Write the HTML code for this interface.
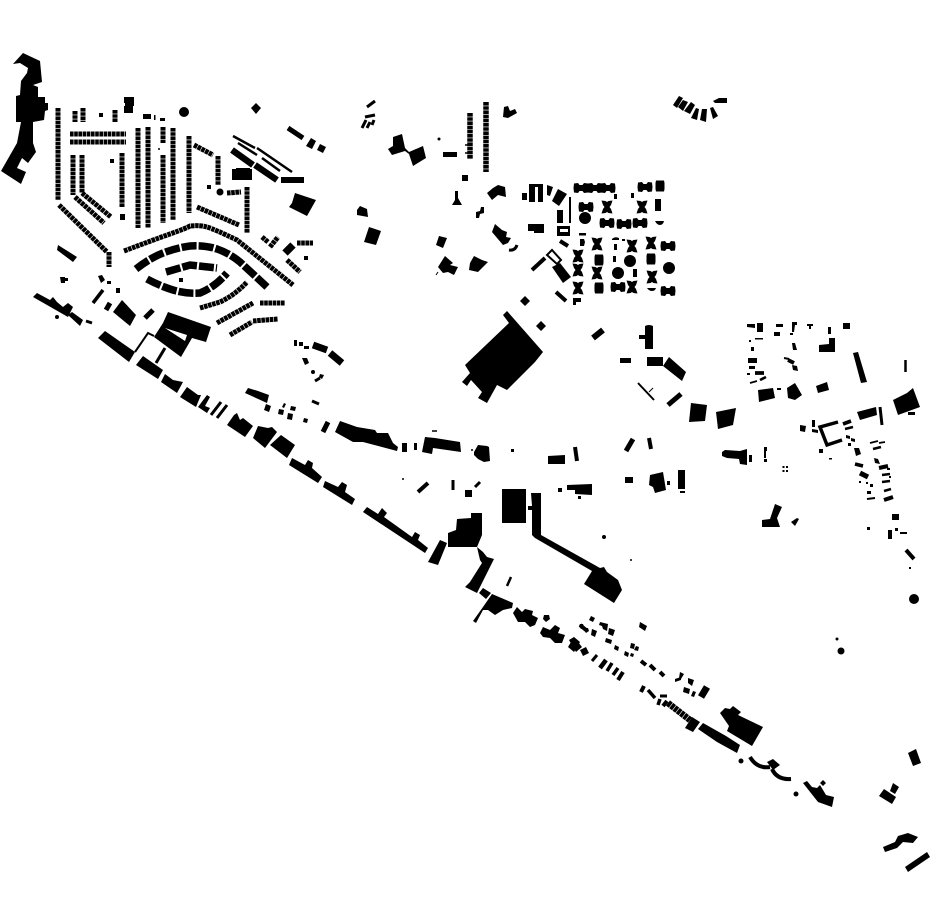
<!DOCTYPE html>
<html><head><meta charset="utf-8"><title>Figure-ground plan</title>
<style>html,body{margin:0;padding:0;background:#fff}svg{display:block}.l{fill:none;stroke:#000}.d{fill:none;stroke:#000;stroke-dasharray:3.6 .6}</style></head>
<body>
<svg width="930" height="924" viewBox="0 0 930 924" xmlns="http://www.w3.org/2000/svg">
<defs>
<path id="x" d="M-5.5,-6.5 L-1.5,-6 L0,-5 L1.5,-6 L5.5,-6.5 L4,-2 L2.5,0 L4,2 L5.5,6.5 L1.5,6 L0,5 L-1.5,6 L-5.5,6.5 L-4,2 L-2.5,0 L-4,-2Z"/>
<path id="h" d="M-7,-4.5 L-3,-5 L-1.5,-3 L1.5,-3 L3,-5 L7,-4.5 L7.5,0 L7,4.5 L3,5 L1.5,3 L-1.5,3 L-3,5 L-7,4.5 L-7.5,0Z"/>
<path id="v" d="M-5.5,-7.5 L5.5,-7.5 L5,-3.5 L3,-1 L3,1 L5,3.5 L5.5,7.5 L-5.5,7.5 L-5,3.5 L-3,1 L-3,-1 L-5,-3.5Z"/>
<path id="r" d="M-4,-5.5 H4 L4.5,-3 V3 L4,5.5 H-4 L-4.5,3 V-3Z"/>
</defs>
<!-- NW large building -->
<polygon points="13,64 23,53 40,61 42,82 33,85 38,87 38,97 45,97 45,103 48,103 48,110 45,111 44,120 33,122 33,143 36,152 28,163 22,158 17,168 26,172 21,184 1,171 17,143 21,122 16,122 16,96 20,95 21,81 27,73 28,68 20,63"/>
<!-- housing rows -->
<g class="d" stroke-width="5">
<path d="M58,108V200M75,111V122M83,108V122M115,110V122M70,134H126M70,142H126M73,155V195M82,155V193M122,153V207M138,128V228M148,127V228M163,127V143M163,155V223M173,128V220M189,136V213M194,145L213,155M218,156V185M227,193L241,192M247,187V233M197,207L239,225"/>
<path d="M75,197L104,223M82,193L111,217M59,205L107,252M109,252V267"/>
<path d="M124,251Q153,240 170,234T190,226Q200,225 207,227T237,240L293,285"/>
<path d="M200,308L220,302Q235,295 247,282M217,323L253,303M260,303H285M230,335L252,322M253,321L278,319M262,237L268,242M270,247L278,237M297,243H313M287,260L300,272"/>
</g>
<g class="l" stroke-width="7.5" stroke-dasharray="15 2">
<path d="M136,269Q150,258 163,253T190,246Q205,245 217,249T240,262L267,287"/>
<path d="M147,279Q160,286 173,290T200,293Q215,287 227,273"/>
<path d="M166,272L190,265L217,268"/>
<path d="M285,253L293,245"/>
</g>
<g class="l" stroke-width="2.5">
<path d="M233,136L255,148M257,148L292,172M238,143L257,155M262,158L280,171"/>
<path d="M135,352L148,333L154,336" stroke-width="2"/>
<path d="M165,348L156,363M211,415L221,402M217,418L227,405" stroke-width="3"/>
<path d="M232,150L253,165M255,165L277,180" stroke-width="6.5"/>
<path d="M288,128L303,138" stroke-width="5"/>
<path d="M93,303L103,290" stroke-width="3.5"/>
<path d="M106,310L110,303M323,432L328,422M145,318L153,310" stroke-width="5"/>
<path d="M86,321L92,323M312,401L319,404" stroke-width="3"/>
<path d="M313,345L327,350M330,353L342,363" stroke-width="7"/>
<path d="M315,381L320,378" stroke-width="3"/>
<path d="M432,431L437,431" stroke-width="1.5"/>
<path d="M626,451L633,439" stroke-width="5"/>
<path d="M418,492L428,483" stroke-width="4"/>
<path d="M453,480V490M475,487L480,482" stroke-width="3"/>
<path d="M575,447L577,461" stroke-width="4"/>
<path d="M511,577L507,586" stroke-width="2.5"/>
<path d="M367,107L375,101M365,117L375,115M362,128L366,120M367,128L370,122M372,125L374,120" stroke-width="3"/>
<path d="M570,197V223" stroke-width="2"/>
<path d="M560,241L568,246M532,270L545,258M556,292L566,301" stroke-width="4"/>
<path d="M547,255L552,250L561,260L557,264Z" stroke-width="2"/>
<path d="M509,250Q515,251 517,245" stroke-width="3"/>
<path d="M593,338L603,330" stroke-width="6"/>
<path d="M638,383L654,400" stroke-width="2"/>
<path d="M649,392L653,388" stroke-width="1"/>
<path d="M668,405L681,394" stroke-width="5"/>
<path d="M649,438L651,449" stroke-width="4"/>
<path d="M880,407L882,425" stroke-width="3"/>
<path d="M838,422L820,427L827,445L842,440" stroke-width="3.5"/>
<path d="M906,550L914,559" stroke-width="4"/>
<path d="M905.5,360V372" stroke-width="2.5"/>
<path d="M750,757Q757,769 770,767M772,769Q777,780 791,779" stroke-width="4"/>
<path d="M436,275L438,272" stroke-width="1"/>
<!-- south-east rows -->
<path d="M592,661L597,655" stroke-width="3"/>
<path d="M600,668L606,660" stroke-width="4.5"/>
<path d="M607,671L612,663M613,675L618,668M658,705L660,699M648,690L655,698" stroke-width="3.5"/>
<path d="M618,680L623,672M641,692L644,686M663,706L667,701" stroke-width="4"/>
<path d="M701,697L707,687" stroke-width="7"/>
<path d="M668,703L690,720" stroke-width="6.5" stroke-dasharray="3.5 .6"/>
<path d="M660,696H667" stroke-width="3"/>
<path d="M580,625L586,630M641,661L646,665M650,665L655,670M660,672L664,676" stroke-width="4"/>
<!-- north-east details -->
<path d="M784,358L789,359" stroke-width="2"/>
<path d="M788,360L794,363M843,424L851,421M755,373L764,373" stroke-width="3.8"/>
<path d="M760,380L766,377M873,449L881,447" stroke-width="2.6"/>
<path d="M845,429L853,427M882,475L890,474M882,482L890,481M884,491L891,489" stroke-width="2.5"/>
<path d="M750,383L757,381M870,443L878,441M879,443L885,442" stroke-width="1.8"/>
<path d="M879,468L888,466M884,500L893,497" stroke-width="4"/>
<path d="M855,464L863,466" stroke-width="3.5"/>
<path d="M860,473L868,477" stroke-width="5"/>
<path d="M867,499L875,498" stroke-width="2"/>
</g>
<g class="d" stroke-width="5.5" stroke-dasharray="5 .8">
<path d="M470,113V159M486,102V172"/>
</g>
<path d="M465,145H470M465,153H470" stroke="#000" stroke-width="1.5"/>
<!-- polygons -->
<polygon points="58,245 77,257 73,262 57,250"/>
<polygon points="33,297 37,293 50,300 53,297 57,302 63,307 68,303 73,307 68,317 33,297"/>
<polygon points="68,315 72,312 83,320 80,326"/>
<polygon points="113,312 122,300 136,315 130,326"/>
<path fill-rule="evenodd" d="M168,312L211,327L206,342L192,338L181,357L154,337L163,323ZM165,328L187,335L185,341Z"/>
<polygon points="98,338 105,331 135,352 129,362"/>
<polygon points="136,365 143,356 163,370 158,379"/>
<polygon points="161,382 165,374 173,380 183,382 177,393"/>
<polygon points="180,397 187,387 198,395 201,395 196,407"/>
<polygon points="198,407 207,395 210,397 205,406 210,408 207,413"/>
<polygon points="227,425 234,415 237,413 240,420 243,418 253,426 245,437"/>
<polygon points="253,438 258,426 268,428 272,427 277,432 265,448"/>
<polygon points="270,445 281,435 295,445 287,458"/>
<polygon points="289,465 292,458 305,465 308,460 313,463 312,468 322,477 318,483"/>
<polygon points="323,487 325,481 338,487 342,482 347,485 345,492 355,499 352,505"/>
<polygon points="363,512 367,507 378,514 382,508 387,513 384,517 412,537 415,532 420,535 418,540 428,548 425,553"/>
<polygon points="245,393 248,388 258,391 269,395 267,403"/>
<polygon points="335,432 340,421 357,427 375,430 377,433 388,433 393,443 398,447 397,451 363,442 353,442"/>
<polygon points="425,437 435,438 460,442 461,452 433,448 432,454 422,452"/>
<polygon points="457,519 471,518 471,513 482,513 482,535 477,547 448,547 448,533 456,530"/>
<polygon points="440,540 447,543 438,565 428,562"/>
<polygon points="477,547 483,552 487,557 494,559 477,593 465,587 470,582 482,563 480,560"/>
<polygon points="479,593 483,588 491,593 486,599"/>
<polygon points="492,594 513,603 512,608 503,610 495,615 488,610 483,610 476,623 473,621 483,607"/>
<polygon points="513,613 517,607 522,612 525,609 533,611 532,615 538,618 535,625 530,627 525,622 518,622"/>
<polygon points="540,633 543,627 550,630 555,625 560,628 558,633 565,635 562,643 555,643 550,638 543,637"/>
<polygon points="568,647 574,637 580,642 574,652"/>
<polygon points="393,137 402,134 405,148 409,152 423,146 426,158 413,166 409,154 405,151 392,155 388,149 393,146"/>
<polygon points="504,107 508,106 510,111 515,109 517,113 508,118 503,117"/>
<polygon points="452,205 455,200 455,191 458,191 458,198 462,205"/>
<polygon points="487,193 493,188 498,185 505,187 506,197 498,195 492,200"/>
<polygon points="476,212 480,211 481,207 484,207 484,213 480,214 479,218 476,218"/>
<polygon points="357,210 360,206 367,209 368,217 357,215"/>
<polygon points="369,227 381,231 376,245 364,242"/>
<polygon points="439,236 447,238 443,248 436,245"/>
<polygon points="445,256 453,263 450,265 458,267 454,275 448,272 443,273 438,267"/>
<polygon points="474,256 482,260 488,262 478,272 469,270 470,263"/>
<polygon points="495,224 502,230 507,232 506,237 511,238 508,243 503,245 492,232"/>
<polygon points="529,184 543,184 543,202 538,202 538,187 535,187 535,202 529,202"/>
<polygon points="547,185 553,187 550,196 547,195"/>
<polygon points="558,189 567,194 559,206 552,201"/>
<polygon points="528,224 544,224 544,233 534,233 534,231 528,231"/>
<path fill-rule="evenodd" d="M557,226H570V236H557ZM560,229V232H568V229Z"/>
<polygon points="552,267 560,263 571,277 563,283"/>
<polygon points="573,298 581,298 581,302 576,302 576,305 573,305"/>
<polygon points="507,311 543,352 535,362 507,390 497,385 487,403 478,398 482,392 471,380 467,386 462,382 470,373 465,365 509,323 503,315"/>
<polygon points="525,296 530,301 525,306 520,301"/>
<polygon points="541,321 546,326 541,331 536,326"/>
<polygon points="669,357 686,372 682,381 663,366"/>
<polygon points="691,403 707,405 705,421 689,422"/>
<polygon points="716,412 736,408 733,425 718,429"/>
<polygon points="650,475 663,472 666,490 655,493 653,487 649,485"/>
<polygon points="722,452 725,450 740,451 747,449 747,465 740,464 739,459 727,458 722,456"/>
<polygon points="474,452 478,445 487,446 489,447 490,461 484,462 478,459 474,455"/>
<polygon points="762,520 770,519 775,504 782,507 777,518 780,527 762,527"/>
<polygon points="791,522 797,518 799,519 795,526"/>
<polygon points="829,338 835,338 835,352 819,352 819,345 829,344"/>
<polygon points="853,353 858,352 867,382 861,383"/>
<polygon points="893,400 907,393 913,388 920,407 898,415"/>
<polygon points="758,390 773,388 775,398 759,402"/>
<polygon points="787,388 795,383 802,395 795,400 788,398"/>
<polygon points="816,386 827,382 829,390 818,393"/>
<polygon points="857,412 876,407 877,415 860,420"/>
<polygon points="567,485 592,484 592,495 575,494 575,490 567,490"/>
<polygon points="531,493 541,493 541,535 600,568 604,567 607,572 618,580 622,590 614,603 584,584 592,571 535,538 532,535 532,510 528,510 528,506 532,506"/>
<polygon points="720,713 725,708 730,709 733,706 741,712 738,715 763,727 752,746 727,731 729,726"/>
<polygon points="703,723 726,736 740,745 737,753 717,742 698,729"/>
<polygon points="685,728 692,717 700,722 693,732"/>
<polygon points="803,783 807,781 812,787 817,788 820,785 826,795 834,797 832,807 818,802"/>
<polygon points="823,780 826,783 823,786 820,783"/>
<polygon points="767,762 773,759 780,765 773,770"/>
<polygon points="908,753 916,749 921,763 913,766"/>
<polygon points="879,796 884,789 896,797 892,804"/>
<polygon points="893,783 899,787 895,794 890,791"/>
<polygon points="883,847 895,842 898,836 908,833 918,837 913,843 903,842 897,848 885,852"/>
<polygon points="905,867 927,852 930,857 908,872"/>
<polygon points="295,193 316,200 307,216 289,207 292,203"/>
<!-- top right arc -->
<polygon points="673,105 679,96 683,98 677,108"/>
<polygon points="678,107 683,100 688,102 683,111"/>
<polygon points="684,111 691,102 695,105 690,114"/>
<polygon points="691,118 696,108 699,109 697,120"/>
<polygon points="700,120 702,109 707,109 706,122"/>
<polygon points="710,108 713,107 718,116 713,119"/>
<polygon points="713,101 719,98 727,98 727,103 715,103"/>
<!-- rectangles -->
<path d="M124,97H134V106H133V113H124V106H125V103H124ZM99,113h4v4h-4zM143,114h8v5h-8zM154,115h1.5v5h-1.5zM160,118h5v3h-5zM110,159h4v4h-4zM120,214h5v6h-5zM207,185h4v4h-4zM179,278h4v4h-4zM281,177h23v6h-23zM232,169h4v-1h14v1h2v11h-20zM304,256h4v4h-4zM60,277h5v1h3v3h-3v2h-4zM98,276l4,-1l3,5l-4,3zM107,281h4v3h-4zM116,288h4v5h-4zM294,340h3v6h-3zM299,342h4v4h-4zM304,346h5v3h-5zM302,358l5,0l2,5l-4,2zM320,374l4,1l-2,4l-3,-2zM266,404l5,2l-2,6l-5,-2zM284,403l2,1l-2,4l-2,-1zM279,409l5,1l-1,5l-5,-1zM291,406l5,1l-1,4l-5,-1zM288,413l5,1l-1,6l-5,-1zM304,418l4,1l-1,4l-4,-1z"/>
<path d="M402,443h5v9h-5zM414,443h3v7h-3zM511,449h3v3h-3zM548,456l17,-1v9h-17zM465,490h7v7h-7zM502,489h24v34h-24zM558,488h4v4h-4zM578,496h3v3h-3zM625,477h8v6h-8zM443,152h14v5h-14zM462,175h6v6h-6zM522,193h5v7h-5zM557,210h6v13h-6zM645,326q4,-2 8,0v23h-8v-10h-6v-4h6zM620,358h11v5h-11zM647,357h16v9h-16zM667,481h3v4h-3zM678,470h7v19h-7zM680,491h5v2h-5zM749,455h3v7h-3zM764,447h3v4h-3zM764,451h2v7h-2zM764,459h3v3h-3zM782.5,466h2v2h-2zM786,466h2v2h-2zM782.5,470h2v2h-2zM786,470h2v2h-2z"/>
<path d="M747,324h8v4l-8,-1zM757,323h6v9h-6zM776,324h7v3h-7zM774,332h6v4h-6zM792,322h5v3h-2l-1,7h-2zM790,333h3v2h-3zM807,324h6v2h-2v3h-2v-3h-2zM828,327h3v7h-3zM843,323h7v6h-7zM908,412h7v3h-7zM749,340h2v2h-2zM755,338h8v1.5h-8zM751,347h3v4h-3zM748,358h9v5h-9zM749,366h6v3h-6zM747,373h3v2h-3zM792,343h3l2,7h-4zM792,365l5,1l1,5l-5,-1zM777,388h4v2h-4zM800,425l6,1l-1,6l-5,-1zM812,420h3v7h-3zM812,429l6,1v3l-6,-1zM819,449h4v4h-4zM829,458h3v1.5h-3zM846,435l4,1v3l-4,-1zM851,438l4,1v3l-4,-1zM848,443h3v3h-3zM854,448h5l2,6l-5,2zM859,481h2v2h-2zM866,482h2v2h-2zM870,484h3v3h-3zM867,491h4v3h-4zM874,458l4,1l2,5l-5,-1zM887,468h3v2h-3zM889,476h2v2h-2zM892,514h7v6h-7zM867,527h3v3h-3zM888,530h4v9h-4zM895,528h3v3h-3zM900,532h7v2h-7zM909,567h2v2h-2z"/>
<!-- SE squares -->
<path d="M591,616l4,2l-2,4l-4,-2zM600,622l8,2l-1,7l-4,-2l-1,-3l-3,-1zM609,628l6,2l-2,6l-5,-2zM592,629l5,2l-2,6l-4,-2zM606,638l6,2l-1,4l-6,-2zM615,645l4,2l-1,4l-4,-2zM631,643l4,1l-1,5l-4,-1zM636,646l3,1l-1,4l-4,-1zM625,651l4,2l-1,4l-4,-2zM631,653l3,1l-1,3l-3,-1zM675,679l6,-2v3l-6,2zM680,672l4,2l-3,5l-2,-1zM688,678l6,2l-2,6l-4,-3zM684,687l6,2l-1,5l-6,-2zM693,691l3,1l-2,5l-3,-1zM569,640l5,-3l8,10l-6,5zM580,650l6,-3l3,6l-6,3zM640,622l7,4l-2,5l-6,-4zM544,615l5,0l1,4l-4,3l-3,-3zM580,624l3,0l1,3l-3,2l-2,-3zM585,628l3,0l1,3l-3,2l-2,-3z"/>
<circle cx="184" cy="112" r="5"/><circle cx="57" cy="317" r="2"/><circle cx="604" cy="537" r="2"/><circle cx="631" cy="560" r="1"/><circle cx="439" cy="139" r="1.5"/><circle cx="914" cy="599" r="5"/><circle cx="741" cy="761" r="2.5"/><circle cx="796" cy="794" r="2.5"/><circle cx="837" cy="639" r="1.5"/><circle cx="841" cy="651" r="3.5"/><circle cx="220" cy="192" r="3.5"/><circle cx="313" cy="372" r="2"/><circle cx="159" cy="149" r="1"/><circle cx="403" cy="479" r="1"/><circle cx="472" cy="450" r="1"/>
<polygon points="256,103 261,108 256,114 251,108"/>
<polygon points="311,138 316,141 312,149 306,146"/>
<polygon points="320,144 326,147 323,153 317,150"/>
<!-- campus grid -->
<g>
<use href="#h" x="581" y="188"/><use href="#h" x="595" y="188"/><use href="#h" x="608" y="188"/><use href="#h" x="645" y="187"/><use href="#r" x="660" y="186" transform="translate(0,0)"/>
<use href="#h" x="586" y="207"/><use href="#x" x="607" y="207"/><use href="#x" x="642" y="207"/>
<use href="#h" x="607" y="223"/><use href="#h" x="624" y="224"/><use href="#h" x="640" y="223"/>
<use href="#x" x="597" y="244"/><use href="#x" x="632" y="246"/><use href="#x" x="651" y="243"/><use href="#h" x="668" y="246"/>
<use href="#x" x="578" y="256"/><use href="#r" x="599" y="260"/><use href="#r" x="651" y="259"/>
<use href="#x" x="578" y="270"/><use href="#x" x="597" y="273"/><use href="#x" x="652" y="277"/>
<use href="#x" x="578" y="288"/><use href="#r" x="599" y="288"/><use href="#h" x="618" y="287"/><use href="#x" x="632" y="287"/><use href="#h" x="668" y="291"/>
<circle cx="585" cy="218" r="6"/><circle cx="630" cy="261" r="6"/><circle cx="669" cy="268" r="6"/><circle cx="618" cy="273" r="6"/>
<path d="M655,199h6v12h-6zM579,233h7v2.500h-7zM580,239h4l1,3l-1,4h-4zM614,244h3v6h-3zM613,256h3v6h-3zM612,239q3,-3 7,-1v2h-7zM622,239h3v2h-3zM633,269h4v8h-4zM614,194h3v5h-3zM631,193h3v5h-3zM655,221h9q-1,4 -4,4t-5,-4zM647,288h9q-1,3 -4,3t-5,-3z"/>
</g>
</svg>
</body></html>
